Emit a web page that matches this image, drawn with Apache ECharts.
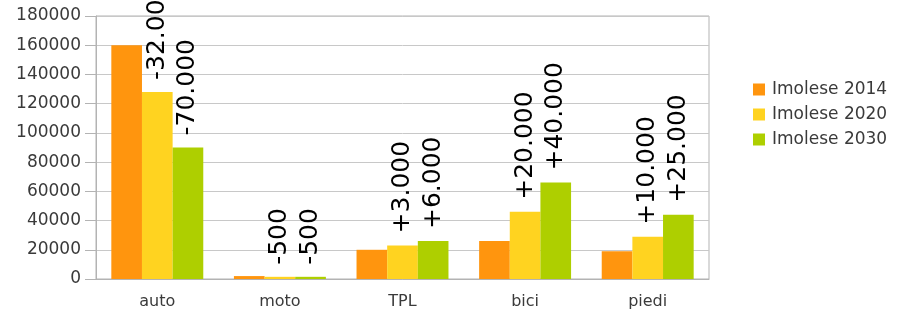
<!DOCTYPE html>
<html>
<head>
<meta charset="utf-8">
<script src="https://cdn.jsdelivr.net/npm/echarts@6/dist/echarts.min.js"></script>
<style>
  html, body { margin: 0; padding: 0; background: #fff; }
  #chart { width: 897px; height: 320px; }
</style>
</head>
<body>
<div id="chart"></div>
<script>
// modi di spostamento
const categories = ['auto', 'moto', 'TPL', 'bici', 'piedi']
const imolese2014 = [160000, 2000, 20000, 26000, 19000]
const imolese2020 = [128000, 1500, 23000, 46000, 29000]
const imolese2030 = [90000, 1500, 26000, 66000, 44000]
// etichette delle variazioni rispetto al 2014
const labels2020 = ['-32.000', '-500', '+3.000', '+20.000', '+10.000']
const labels2030 = ['-70.000', '-500', '+6.000', '+40.000', '+25.000']

const gray = '#b3b3b3'
const textColor = '#3a3a3a'
const font = 'DejaVu Sans'

const barLabel = (texts) => ({
  show: true,
  position: 'top',
  distance: 12,
  rotate: 90,
  align: 'left',
  verticalAlign: 'middle',
  color: '#000',
  fontSize: 25,
  fontFamily: font,
  formatter: (p) => texts[p.dataIndex]
})

const option = {
  animation: false,
  textStyle: { fontFamily: font },
  color: ['#ff950e', '#ffd320', '#aecf00'],
  grid: {
    left: 96,
    right: 188,
    top: 16,
    bottom: 41,
    show: true,
    borderColor: gray,
    borderWidth: 1
  },
  legend: {
    orient: 'vertical',
    left: 753,
    top: 81,
    padding: 0,
    itemWidth: 12,
    itemHeight: 12,
    itemGap: 8,
    icon: 'rect',
    textStyle: { fontSize: 17, color: textColor, fontFamily: font, padding: [0, 0, 0, 2] },
    data: ['Imolese 2014', 'Imolese 2020', 'Imolese 2030']
  },
  xAxis: {
    type: 'category',
    data: categories,
    axisLine: { lineStyle: { color: gray } },
    axisTick: { length: 7, lineStyle: { color: gray } },
    axisLabel: { fontSize: 16, color: textColor, margin: 15 }
  },
  yAxis: {
    type: 'value',
    min: 0,
    max: 180000,
    interval: 20000,
    axisLine: { show: true, lineStyle: { color: gray } },
    axisTick: { show: true, length: 11, lineStyle: { color: gray } },
    axisLabel: { fontSize: 17, color: textColor, margin: 15, formatter: (v) => String(v) },
    splitLine: { lineStyle: { color: '#c8c8c8' } }
  },
  series: [
    {
      name: 'Imolese 2014',
      type: 'bar',
      data: imolese2014,
      barGap: 0,
      barCategoryGap: '25%'
    },
    {
      name: 'Imolese 2020',
      type: 'bar',
      data: imolese2020,
      label: barLabel(labels2020)
    },
    {
      name: 'Imolese 2030',
      type: 'bar',
      data: imolese2030,
      label: barLabel(labels2030)
    }
  ]
}

const myChart = echarts.init(document.getElementById('chart'))
myChart.setOption(option)
</script>
</body>
</html>
